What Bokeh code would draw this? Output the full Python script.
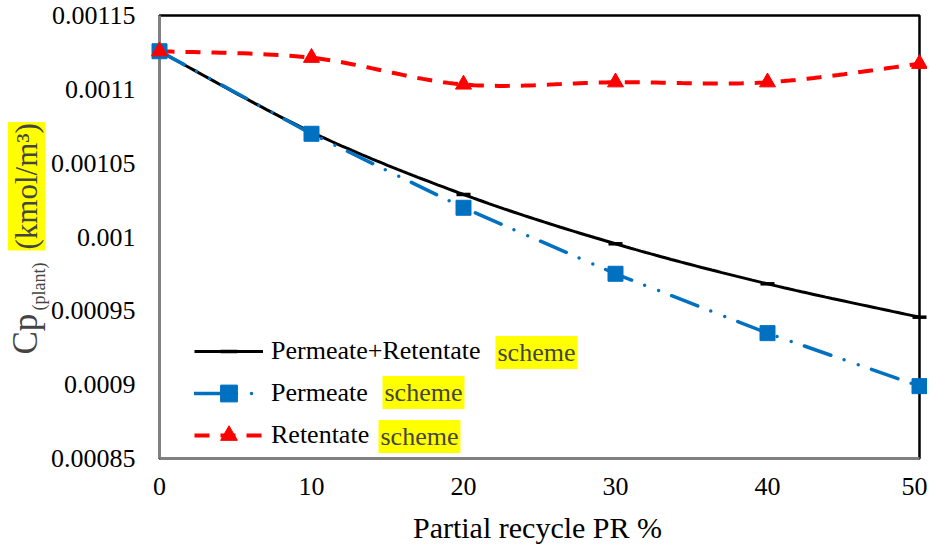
import math
import numpy as np
from bokeh.plotting import figure
from bokeh.models import Range1d, FixedTicker, Legend, LegendItem, Label
from bokeh.embed import file_html
from bokeh.resources import INLINE

# ---------------- data ----------------
pr = [0, 10, 20, 30, 40, 50]
cp_perm_ret = [0.0011258, 0.0010710, 0.0010288, 0.0009954, 0.0009683, 0.0009457]
cp_perm = [0.0011258, 0.0010699, 0.0010198, 0.0009751, 0.0009349, 0.0008990]
cp_ret = [0.0011258, 0.0011214, 0.0011033, 0.0011048, 0.0011048, 0.0011173]

series_names = ["Permeate+Retentate", "Permeate", "Retentate"]
name_suffix = "scheme"

x_ticks = [0, 10, 20, 30, 40, 50]
x_tick_labels = ["0", "10", "20", "30", "40", "50"]
y_ticks = [0.00085, 0.0009, 0.00095, 0.001, 0.00105, 0.0011, 0.00115]
y_tick_labels = ["0.00085", "0.0009", "0.00095", "0.001", "0.00105", "0.0011", "0.00115"]

x_title = "Partial recycle PR %"
y_title_main = "Cp"
y_title_sub = "(plant)"
y_title_unit = "(kmol/m\u00b3)"

FONT = "Liberation Serif"

# ---------------- layout (pixels) ----------------
W, H = 927, 544
PLOT_L, PLOT_R, PLOT_T, PLOT_B = 159, 919, 15, 458   # plot-area box in canvas px


def smooth(xs, ys, n=30):
    """Excel-like smoothed line (cubic Bezier through the points)."""
    P = [np.array([float(a), float(b)]) for a, b in zip(xs, ys)]
    ox, oy = [], []
    for i in range(len(P) - 1):
        p0 = P[i - 1] if i > 0 else P[i]
        p1, p2 = P[i], P[i + 1]
        p3 = P[i + 2] if i + 2 < len(P) else P[i + 1]
        c1 = p1 + (p2 - p0) / 6.0
        c2 = p2 - (p3 - p1) / 6.0
        ts = np.linspace(0, 1, n, endpoint=(i == len(P) - 2))
        for t in ts:
            q = ((1 - t) ** 3) * p1 + 3 * ((1 - t) ** 2) * t * c1 + 3 * (1 - t) * t * t * c2 + t ** 3 * p2
            ox.append(q[0])
            oy.append(q[1])
    return ox, oy


# data window -> extend ranges so the frame covers the full canvas
x0, x1 = x_ticks[0], x_ticks[-1]
y0, y1 = y_ticks[0], y_ticks[-1]
ux = (x1 - x0) / (PLOT_R - PLOT_L)
uy = (y1 - y0) / (PLOT_B - PLOT_T)
xr = Range1d(x0 - PLOT_L * ux, x1 + (W - PLOT_R) * ux)
yr = Range1d(y0 - (H - PLOT_B) * uy, y1 + PLOT_T * uy)

p = figure(width=W, height=H, output_backend="svg", toolbar_location=None,
           x_range=xr, y_range=yr,
           min_border_left=0, min_border_right=0, min_border_top=0, min_border_bottom=0)
p.xgrid.visible = False
p.ygrid.visible = False
p.background_fill_color = "white"
p.border_fill_color = "white"
p.outline_line_color = None

# plot-area border (top/right black; left/bottom covered by the grey axes)
p.quad(left=[x0], right=[x1], bottom=[y0], top=[y1], fill_alpha=0,
       line_color="black", line_width=2.5)

p.xaxis.ticker = FixedTicker(ticks=x_ticks)
p.xaxis.major_label_overrides = dict(zip(x_ticks, x_tick_labels))
p.yaxis.ticker = FixedTicker(ticks=y_ticks)
p.yaxis.major_label_overrides = dict(zip(y_ticks, y_tick_labels))
p.xaxis.fixed_location = y0
p.yaxis.fixed_location = x0
p.xaxis.bounds = (x0, x1)
p.yaxis.bounds = (y0, y1)
p.xaxis.axis_line_color = "#808080"
p.yaxis.axis_line_color = "#808080"
p.xaxis.axis_line_width = 3
p.yaxis.axis_line_width = 3
p.xaxis.major_tick_out = 0
p.xaxis.major_tick_in = 0
p.yaxis.major_tick_out = 0
p.yaxis.major_tick_in = 0
p.xaxis.minor_tick_out = 0
p.xaxis.minor_tick_in = 0
p.yaxis.minor_tick_out = 0
p.yaxis.minor_tick_in = 0
p.xaxis.major_label_text_font = FONT
p.yaxis.major_label_text_font = FONT
p.xaxis.major_label_text_font_size = "26px"
p.yaxis.major_label_text_font_size = "26px"
p.xaxis.major_label_text_color = "black"
p.yaxis.major_label_text_color = "black"
p.xaxis.major_label_standoff = 19
p.yaxis.major_label_standoff = 24

# series
bx, by = smooth(pr, cp_perm_ret)
black_line = p.line(bx, by, line_color="black", line_width=3)
black_mk = p.scatter(pr, cp_perm_ret, marker="dash", size=14, line_color="black",
                     line_width=3.5, level="annotation")

blue_line = p.line(pr, cp_perm, line_color="#0070C0", line_width=3.5,
                   line_dash="28 14 0 15 0 14", line_cap="round")
blue_mk = p.scatter(pr, cp_perm, marker="square", size=15, fill_color="#0070C0",
                    line_color="#0070C0", level="annotation")

rx, ry = smooth(pr, cp_ret)
red_line = p.line(rx, ry, line_color="#FF0000", line_width=4, line_dash="15 11")
red_mk = p.scatter(pr, cp_ret, marker="triangle", size=16, fill_color="#FF0000",
                   line_color="#FF0000", level="annotation")

legend = Legend(items=[
    LegendItem(label=series_names[0], renderers=[black_line, black_mk]),
    LegendItem(label=series_names[1], renderers=[blue_line, blue_mk]),
    LegendItem(label=series_names[2], renderers=[red_line, red_mk]),
], location=(194, H - 456), glyph_width=69, glyph_height=42, label_height=42, spacing=0,
    padding=0, margin=0, label_standoff=8, border_line_alpha=0, background_fill_alpha=0,
    label_text_font=FONT, label_text_font_size="26px", label_text_color="black")
p.add_layout(legend)

# highlighted "scheme" words in legend
for sx, sy in [(495, 352), (382, 392), (378, 436)]:
    p.add_layout(Label(x=sx, y=H - sy, x_units="screen", y_units="screen", text=name_suffix,
                       text_font=FONT, text_font_size="26px", text_baseline="middle",
                       text_align="left", background_fill_color="#FFFF00", padding=2))

# x axis title
p.add_layout(Label(x=537, y=H - 527, x_units="screen", y_units="screen", text=x_title,
                   text_font=FONT, text_font_size="30px", text_align="center",
                   text_baseline="middle", text_color="black"))

# y axis title pieces (rotated)
p.add_layout(Label(x=25, y=H - 354, x_units="screen", y_units="screen", text=y_title_main,
                   angle=math.pi / 2, text_font=FONT, text_font_size="35px",
                   text_align="left", text_baseline="alphabetic"))
p.add_layout(Label(x=38, y=H - 310, x_units="screen", y_units="screen", text=y_title_sub,
                   angle=math.pi / 2, text_font=FONT, text_font_size="18px",
                   text_align="left", text_baseline="alphabetic"))
p.add_layout(Label(x=26, y=H - 250, x_units="screen", y_units="screen", text=y_title_unit,
                   angle=math.pi / 2, text_font=FONT, text_font_size="31px",
                   text_align="left", text_baseline="alphabetic",
                   background_fill_color="#FFFF00", padding=1))

open("out.html", "w").write(file_html(p, INLINE))
